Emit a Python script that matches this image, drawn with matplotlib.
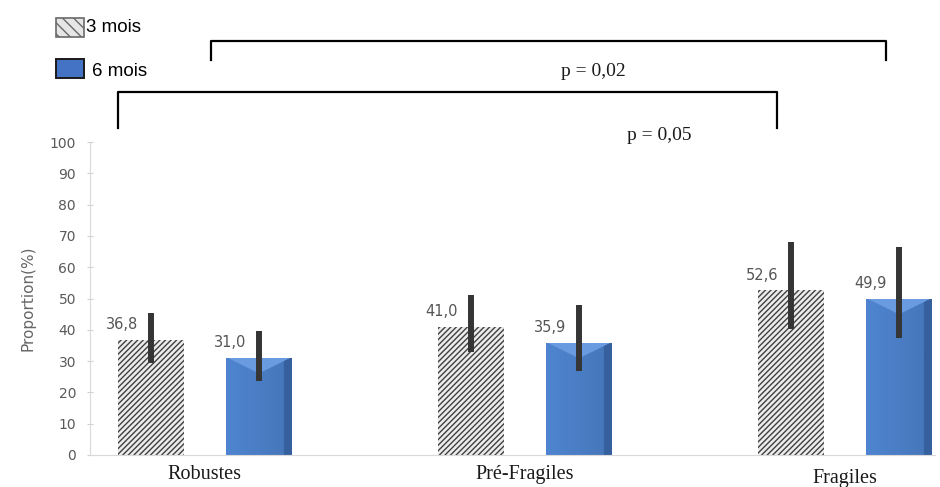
import numpy as np
import matplotlib
matplotlib.use("Agg")
import matplotlib.pyplot as plt
import matplotlib.colors as mcolors
from matplotlib.patches import Rectangle
from matplotlib.lines import Line2D


categories = ["Robustes", "Pré-Fragiles", "Fragiles"]
series_names = ["3 mois", "6 mois"]
values_3m = [36.8, 41.0, 52.6]
values_6m = [31.0, 35.9, 49.9]
# ends of the error bars
low_3m = [29.5, 33.0, 40.3]
high_3m = [45.5, 51.0, 68.2]
low_6m = [23.8, 26.8, 37.3]
high_6m = [39.6, 47.8, 66.5]
p_labels = ["p = 0,02", "p = 0,05"]

W, H = 940, 487
plt.rcParams["hatch.linewidth"] = 1.0

fig = plt.figure(figsize=(W / 100, H / 100), dpi=100)
ax = fig.add_axes([90 / W, 1 - 455 / H, 845 / W, 313 / H])

x = np.arange(len(categories))
bw = 0.206
off = 0.169

bars3 = ax.bar(x - off, values_3m, bw, color="#ececec", edgecolor="#404040",
               hatch="//////", linewidth=0, zorder=2)
bars6 = ax.bar(x + off, values_6m, bw, color="#4a7dc4", linewidth=0, zorder=2)

ax.set_xlim(-0.359, 2.281)
ax.set_ylim(0, 100)


def shade_bar(ax, patch):
    # bevelled blue fill: lighter V on top, darker band on the right
    x0, y0 = patch.get_x(), patch.get_y()
    w, h = patch.get_width(), patch.get_height()
    (px0, py0), (px1, py1) = ax.transData.transform([(x0, y0), (x0 + w, y0 + h)])
    nx, ny = max(int(px1 - px0), 2), max(int(py1 - py0), 2)
    u = np.linspace(0, 1, nx)[None, :]
    d = np.arange(ny)[:, None].astype(float)
    base = np.array(mcolors.to_rgb("#4a7dc4"))
    light = np.array(mcolors.to_rgb("#6a9be0"))
    dark = np.array(mcolors.to_rgb("#36609e"))
    k = (1.06 - 0.12 * u) * np.ones_like(d)
    img = base[None, None, :] * k[:, :, None]
    band = (u > 0.88) & (d >= 0)
    img[np.broadcast_to(band, (ny, nx))] = dark
    vee = d < 16 * (1 - np.abs(2 * u - 1))
    img[vee] = light
    img = np.clip(img, 0, 1)
    im = ax.imshow(img, extent=[x0, x0 + w, y0, y0 + h], origin="upper",
                   aspect="auto", zorder=2.1, interpolation="bilinear")
    im.set_clip_path(patch)


for b in bars6:
    shade_bar(ax, b)
ax.set_xlim(-0.359, 2.281)
ax.set_ylim(0, 100)

err3 = [np.subtract(values_3m, low_3m), np.subtract(high_3m, values_3m)]
err6 = [np.subtract(values_6m, low_6m), np.subtract(high_6m, values_6m)]
ax.errorbar(x - off, values_3m, yerr=err3, fmt="none", ecolor="#353535",
            elinewidth=4.3, capsize=0, zorder=3)
ax.errorbar(x + off, values_6m, yerr=err6, fmt="none", ecolor="#353535",
            elinewidth=4.3, capsize=0, zorder=3)

for xs, vals in ((x - off, values_3m), (x + off, values_6m)):
    for xi, v in zip(xs, vals):
        ax.text(xi - 0.04, v + 4.8, f"{v:.1f}".replace(".", ","), ha="right",
                va="center", fontsize=10.5, color="#555555", zorder=4)

ax.set_yticks(np.arange(0, 101, 10))
ax.tick_params(axis="y", labelsize=10, colors="#d0d0d0",
               length=4, direction="inout", pad=8)
for lab in ax.get_yticklabels():
    lab.set_color("#595959")
ax.set_xticks(x)
ax.set_xticklabels(categories, family="Liberation Serif", fontsize=14.5,
                   color="#1a1a1a")
ax.tick_params(axis="x", length=0, pad=7)
ax.xaxis.get_major_ticks()[2].set_pad(10)
ax.set_ylabel("Proportion(%)", family=["Liberation Sans Narrow", "DejaVu Sans"],
              fontsize=11, color="#666666", labelpad=10)

for s in ["top", "right"]:
    ax.spines[s].set_visible(False)
ax.spines["left"].set_color("#d9d9d9")
ax.spines["bottom"].set_color("#d9d9d9")


def fx(px):
    return px / W


def fy(py):
    return 1 - py / H


# significance brackets
for (xa, xb, ytop, ybot) in ((211, 886, 41, 60), (118, 777, 92, 128)):
    fig.add_artist(Line2D([fx(xa), fx(xa), fx(xb), fx(xb)],
                          [fy(ybot), fy(ytop), fy(ytop), fy(ybot)],
                          color="black", lw=1.6))
fig.text(fx(593), fy(72), p_labels[0], ha="center", va="center",
         family="Liberation Serif", fontsize=14, color="#1a1a1a")
fig.text(fx(659), fy(135), p_labels[1], ha="center", va="center",
         family="Liberation Serif", fontsize=14, color="#1a1a1a")

# legend
fig.add_artist(Rectangle((fx(56), fy(37)), 28 / W, 19 / H, facecolor="#e6e6e6",
                         edgecolor="#6a6a6a", hatch="\\\\\\", lw=1.2,
                         transform=fig.transFigure))
fig.text(fx(86), fy(28), series_names[0], ha="left", va="center",
         family="Liberation Sans", fontsize=13.5)
fig.add_artist(Rectangle((fx(56), fy(78)), 28 / W, 19 / H, facecolor="#4472c4",
                         edgecolor="#1a1a1a", lw=1.4, transform=fig.transFigure))
fig.text(fx(92), fy(72), series_names[1], ha="left", va="center",
         family="Liberation Sans", fontsize=13.5)

fig.savefig("out.png", dpi=100)
